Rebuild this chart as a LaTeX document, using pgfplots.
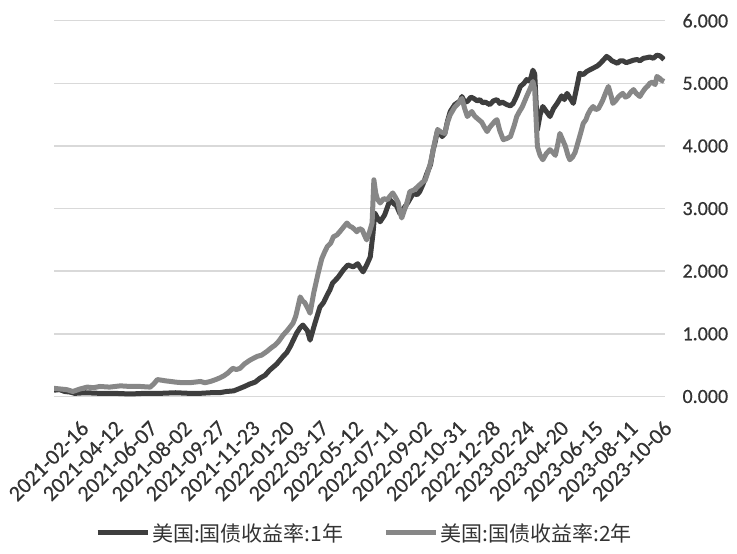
\documentclass[border=0pt]{standalone}
\usepackage{pgfplots}
\pgfplotsset{compat=1.18}
\usepackage{fontspec}
\setmainfont{Carlito}
\newfontfamily\tickfont{Carlito}[FakeBold=0.5]
\newfontfamily\cjk{Noto Sans CJK SC}
\definecolor{darkline}{HTML}{3E3E3E}
\definecolor{lightline}{HTML}{878787}
\definecolor{gridc}{HTML}{D9D9D9}
\begin{document}
\begin{tikzpicture}
\path[use as bounding box] (0,0) rectangle (737pt,554pt);
\begin{axis}[
  at={(54pt,157.5pt)}, anchor=south west,
  scale only axis, width=611pt, height=375.8pt,
  xmin=0, xmax=680, ymin=0, ymax=6,
  axis line style={draw=none}, tick style={draw=none},
  major tick length=0pt,
  ymajorgrids, grid style={color=gridc, line width=1.5pt},
  ytick={0,1,2,3,4,5,6},
  yticklabel pos=right,
  yticklabel style={anchor=west, xshift=14pt, font=\tickfont\fontsize{20}{22}\selectfont, text=black!80},
  /pgf/number format/.cd, fixed, fixed zerofill, precision=3, assume math mode=true,
  /pgfplots/.cd,
  xtick={31,69.2,107.4,145.5,183.7,221.9,260.1,298.3,336.4,374.6,412.8,451.0,489.2,527.3,565.5,603.7,641.9,680},
  xticklabels={2021-02-16,2021-04-12,2021-06-07,2021-08-02,2021-09-27,2021-11-23,2022-01-20,2022-03-17,2022-05-12,2022-07-11,2022-09-02,2022-10-31,2022-12-28,2023-02-24,2023-04-20,2023-06-15,2023-08-11,2023-10-06},
  xticklabel style={xshift=3pt, yshift=-28pt, rotate=45, anchor=east, inner sep=0pt, font=\tickfont\fontsize{22}{24}\selectfont, text=black!80},
  legend columns=2,
  legend style={draw=none, fill=none, at={(0.508,-0.363)}, anchor=center, font=\cjk\fontsize{21}{23}\selectfont, text=black!80,
    /tikz/every even column/.append style={column sep=38pt}},
  legend image code/.code={\draw[#1] (0pt,0pt) -- (50pt,0pt);},
]
\addplot[darkline, line width=5pt, line join=round] coordinates {
(0,0.10)(6,0.11)(12,0.08)(18,0.07)(23,0.05)(35,0.06)(51,0.05)(68,0.05)(85,0.04)(100,0.05)(118,0.05)(135,0.06)(151,0.05)(162,0.05)(174,0.06)(184,0.06)(192,0.08)(200,0.09)(207,0.13)(212,0.16)(218,0.20)(224,0.23)(229,0.29)(235,0.34)(240,0.42)(248,0.52)(255,0.64)(259,0.70)(263,0.80)(267,0.92)(270,1.01)(274,1.10)(277,1.14)(282,1.05)(285,0.90)(290,1.15)(296,1.43)(300,1.50)(304,1.62)(307,1.70)(310,1.81)(316,1.90)(322,2.02)(327,2.10)(333,2.07)(338,2.12)(341,2.05)(344,1.99)(348,2.10)(352,2.23)(355,2.60)(357,2.93)(360,2.85)(363,2.79)(368,2.90)(371,3.02)(374,3.14)(378,3.08)(381,3.05)(385,2.92)(388,2.98)(394,3.10)(400,3.25)(404,3.22)(407,3.27)(411,3.40)(415,3.56)(419,3.70)(422,3.94)(424,4.05)(427,4.26)(432,4.15)(435,4.20)(438,4.40)(441,4.55)(446,4.66)(452,4.72)(454,4.79)(457,4.70)(460,4.71)(464,4.78)(467,4.76)(471,4.72)(474,4.74)(477,4.69)(480,4.70)(485,4.66)(489,4.72)(493,4.74)(496,4.68)(499,4.70)(504,4.66)(508,4.64)(511,4.68)(515,4.80)(519,4.95)(523,5.00)(526,5.06)(529,5.04)(531,5.10)(533,5.21)(535,5.15)(538,4.26)(541,4.50)(544,4.63)(548,4.55)(552,4.47)(556,4.60)(560,4.68)(565,4.80)(568,4.74)(571,4.84)(575,4.75)(578,4.68)(582,4.95)(585,5.16)(589,5.14)(593,5.19)(597,5.22)(601,5.25)(605,5.28)(608,5.32)(612,5.38)(615,5.43)(618,5.40)(621,5.36)(624,5.34)(627,5.32)(630,5.36)(633,5.36)(637,5.33)(641,5.35)(645,5.37)(649,5.38)(652,5.36)(656,5.40)(660,5.41)(663,5.42)(667,5.40)(671,5.45)(674,5.44)(676,5.42)(679,5.38)
};
\addlegendentry{美国:国债收益率:1年}
\addplot[lightline, line width=5pt, line join=round] coordinates {
(0,0.13)(7,0.12)(14,0.11)(21,0.08)(25,0.10)(29,0.12)(37,0.15)(44,0.14)(51,0.16)(62,0.15)(74,0.17)(85,0.16)(96,0.16)(107,0.15)(111,0.20)(115,0.27)(120,0.26)(124,0.25)(130,0.24)(135,0.23)(143,0.22)(151,0.22)(157,0.23)(163,0.24)(168,0.22)(174,0.24)(180,0.27)(185,0.30)(189,0.33)(193,0.37)(199,0.45)(203,0.43)(207,0.45)(212,0.52)(218,0.58)(222,0.61)(226,0.64)(231,0.66)(237,0.72)(242,0.78)(246,0.82)(250,0.88)(255,0.98)(260,1.06)(266,1.17)(269,1.28)(271,1.40)(274,1.59)(277,1.52)(279,1.50)(282,1.42)(285,1.33)(289,1.65)(294,1.97)(298,2.20)(301,2.30)(304,2.39)(308,2.45)(311,2.55)(315,2.58)(318,2.63)(322,2.70)(326,2.77)(329,2.72)(332,2.70)(335,2.66)(337,2.63)(340,2.68)(343,2.66)(346,2.56)(348,2.50)(351,2.62)(354,2.77)(356,3.46)(358,3.25)(360,3.15)(363,3.09)(367,3.16)(371,3.14)(374,3.20)(377,3.25)(380,3.18)(383,3.10)(385,2.95)(387,2.85)(390,2.98)(392,3.05)(396,3.27)(401,3.30)(404,3.34)(407,3.38)(410,3.42)(413,3.45)(416,3.58)(419,3.73)(422,3.94)(424,4.08)(427,4.26)(431,4.22)(435,4.20)(438,4.38)(441,4.50)(446,4.62)(450,4.68)(454,4.76)(457,4.60)(460,4.47)(463,4.52)(465,4.55)(468,4.48)(471,4.44)(476,4.38)(479,4.30)(482,4.23)(485,4.30)(488,4.35)(491,4.40)(493,4.42)(496,4.25)(500,4.10)(504,4.12)(508,4.15)(512,4.32)(515,4.47)(518,4.55)(521,4.62)(526,4.79)(530,4.92)(533,5.03)(535,4.90)(538,3.99)(541,3.85)(544,3.78)(548,3.88)(552,3.94)(555,3.90)(558,3.85)(561,4.05)(563,4.20)(566,4.10)(569,4.00)(572,3.85)(574,3.78)(577,3.82)(580,3.90)(583,4.05)(586,4.20)(589,4.36)(592,4.42)(594,4.50)(597,4.58)(600,4.63)(603,4.58)(606,4.60)(609,4.68)(611,4.74)(614,4.85)(617,4.95)(620,4.80)(622,4.68)(625,4.72)(628,4.78)(631,4.82)(633,4.84)(636,4.78)(639,4.80)(642,4.86)(645,4.90)(648,4.84)(652,4.79)(655,4.86)(658,4.92)(661,4.96)(663,5.00)(666,5.02)(669,4.98)(671,5.11)(674,5.08)(676,5.05)(679,5.03)
};
\addlegendentry{美国:国债收益率:2年}
\end{axis}
\end{tikzpicture}
\end{document}
